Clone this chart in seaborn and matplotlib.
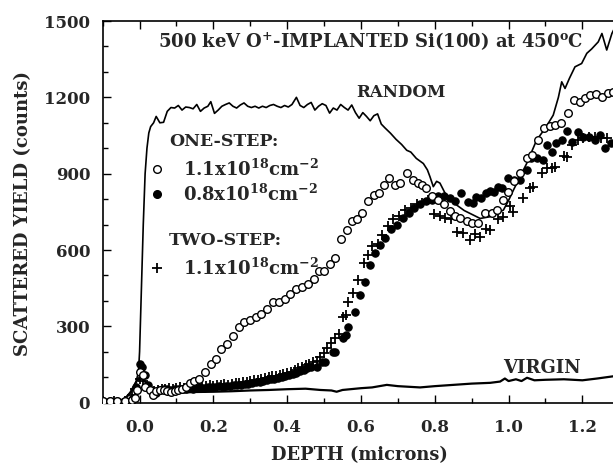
import numpy as np
import pandas as pd
import matplotlib
matplotlib.use("Agg")
import matplotlib.pyplot as plt
from matplotlib.ticker import MultipleLocator
from matplotlib.lines import Line2D
import seaborn as sns

# ---------------- data ----------------
random_x = [-0.10, -0.06, -0.04, -0.03, -0.02, -0.01, -0.003, 0.0, 0.005, 0.01, 0.015, 0.02, 0.025, 0.03,
            0.038, 0.045, 0.055, 0.065, 0.075, 0.085, 0.095, 0.105, 0.115, 0.125, 0.135, 0.145, 0.155,
            0.165, 0.175, 0.185, 0.193, 0.203, 0.213, 0.223, 0.233, 0.243, 0.253, 0.263, 0.273, 0.283,
            0.293, 0.303, 0.313, 0.323, 0.333, 0.343, 0.353, 0.363, 0.373, 0.383, 0.393, 0.403, 0.413,
            0.425, 0.435, 0.445, 0.455, 0.465, 0.475, 0.485, 0.495, 0.505, 0.515, 0.525, 0.535, 0.545,
            0.555, 0.565, 0.575, 0.585, 0.595, 0.605, 0.615, 0.625, 0.635, 0.645, 0.655, 0.665, 0.68,
            0.695, 0.71, 0.724, 0.735, 0.75, 0.769, 0.78, 0.787, 0.796, 0.805, 0.814, 0.828, 0.845, 0.86,
            0.88, 0.905, 0.923, 0.95, 0.97, 0.986, 1.0, 1.013, 1.03, 1.049, 1.076, 1.1, 1.121, 1.135,
            1.144, 1.153, 1.165, 1.18, 1.198, 1.212, 1.225, 1.243, 1.253, 1.266, 1.28, 1.29]
random_y = [5, 5, 15, 30, 50, 80, 120, 200, 450, 700, 900, 1000, 1060, 1085,
            1100, 1125, 1100, 1102, 1145, 1160, 1158, 1168, 1150, 1162, 1160, 1155, 1172,
            1145, 1158, 1165, 1183, 1137, 1150, 1165, 1172, 1178, 1165, 1158, 1170, 1178,
            1165, 1160, 1165, 1158, 1165, 1160, 1168, 1172, 1165, 1160, 1168, 1162, 1172,
            1200, 1168, 1160, 1172, 1180, 1150, 1165, 1175, 1168, 1138, 1158, 1150, 1172,
            1160, 1150, 1170, 1140, 1118, 1140, 1125, 1108, 1128, 1135, 1095, 1080, 1059,
            1035, 1015, 992, 985, 960, 940, 915, 888, 849, 870, 863, 823, 800, 776,
            755, 737, 724, 731, 745, 757, 795, 835, 885, 940, 1032, 1080, 1130, 1200,
            1261, 1235, 1275, 1320, 1333, 1373, 1390, 1418, 1451, 1386, 1451, 1480]

virgin_x = [-0.10, -0.06, -0.04, -0.025, -0.01, 0.0, 0.01, 0.02, 0.03, 0.04, 0.05, 0.06, 0.08, 0.1,
            0.12, 0.15, 0.2, 0.25, 0.3, 0.35, 0.4, 0.45, 0.49, 0.52, 0.534, 0.55, 0.6, 0.63, 0.67,
            0.7, 0.76, 0.8, 0.85, 0.9, 0.95, 0.977, 0.99, 1.0, 1.02, 1.035, 1.05, 1.07, 1.1, 1.15,
            1.2, 1.24, 1.29]
virgin_y = [5, 6, 15, 40, 80, 100, 95, 70, 45, 32, 38, 42, 43, 40,
            40, 42, 43, 45, 48, 50, 53, 55, 50, 48, 43, 50, 57, 60, 70,
            65, 60, 65, 70, 75, 78, 83, 95, 85, 92, 85, 98, 88, 90, 92,
            88, 95, 105]

one_step_11_x = [-0.10, -0.08, -0.06, -0.04, -0.02, -0.012, -0.008, 0.001, 0.008, 0.015, 0.028, 0.037,
                 0.045, 0.055, 0.065, 0.075, 0.085, 0.095, 0.105, 0.115, 0.125, 0.137, 0.148, 0.161,
                 0.177, 0.193, 0.206, 0.222, 0.238, 0.254, 0.269, 0.284, 0.3, 0.316, 0.329, 0.345,
                 0.361, 0.377, 0.393, 0.408, 0.424, 0.44, 0.456, 0.472, 0.487, 0.501, 0.516, 0.529,
                 0.545, 0.561, 0.577, 0.589, 0.603, 0.619, 0.635, 0.648, 0.663, 0.677, 0.691, 0.705,
                 0.724, 0.74, 0.754, 0.766, 0.777, 0.793, 0.808, 0.824, 0.84, 0.856, 0.869, 0.887,
                 0.9, 0.918, 0.936, 0.954, 0.968, 0.986, 0.999, 1.014, 1.031, 1.049, 1.063, 1.08,
                 1.096, 1.112, 1.127, 1.143, 1.161, 1.177, 1.193, 1.208, 1.222, 1.238, 1.254, 1.27,
                 1.283]
one_step_11_y = [5, 5, 5, 8, 10, 17, 50, 122, 110, 63, 50, 30,
                 45, 50, 48, 45, 42, 45, 50, 55, 60, 76, 85, 94,
                 120, 153, 172, 211, 231, 263, 296, 316, 326, 335, 348, 368,
                 394, 394, 407, 426, 446, 453, 466, 485, 518, 518, 544, 570,
                 642, 677, 713, 720, 746, 792, 818, 824, 857, 883, 857, 863,
                 903, 876, 863, 857, 844, 811, 798, 779, 753, 733, 724, 713,
                 705, 705, 744, 744, 757, 796, 829, 870, 901, 960, 974, 1033,
                 1079, 1088, 1092, 1101, 1137, 1189, 1183, 1196, 1209, 1212, 1203, 1216,
                 1222]

one_step_08_x = [-0.10, -0.08, -0.06, -0.04, -0.02, -0.01, 0.0, 0.007, 0.014, 0.024, 0.034, 0.045,
                 0.055, 0.065, 0.075, 0.085, 0.095, 0.105, 0.115, 0.125, 0.135, 0.145, 0.155, 0.165,
                 0.175, 0.185, 0.195, 0.205, 0.215, 0.225, 0.235, 0.245, 0.255, 0.265, 0.275, 0.285,
                 0.295, 0.305, 0.315, 0.325, 0.335, 0.345, 0.355, 0.365, 0.375, 0.385, 0.395, 0.405,
                 0.415, 0.425, 0.435, 0.445, 0.455, 0.465, 0.48, 0.495, 0.503, 0.523, 0.53, 0.552,
                 0.56, 0.566, 0.584, 0.598, 0.611, 0.625, 0.638, 0.651, 0.666, 0.682, 0.698, 0.714,
                 0.729, 0.745, 0.761, 0.777, 0.793, 0.808, 0.824, 0.84, 0.856, 0.872, 0.891, 0.903,
                 0.913, 0.925, 0.94, 0.951, 0.96, 0.972, 0.982, 0.999, 1.014, 1.031, 1.049, 1.061,
                 1.076, 1.093, 1.103, 1.119, 1.129, 1.145, 1.158, 1.173, 1.189, 1.201, 1.217, 1.233,
                 1.249, 1.262, 1.277]
one_step_08_y = [5, 5, 5, 5, 15, 60, 153, 140, 107, 68, 45, 40,
                 50, 52, 55, 50, 52, 55, 52, 55, 58, 55, 58, 60,
                 58, 62, 60, 62, 65, 63, 67, 65, 68, 70, 68, 72,
                 75, 78, 80, 82, 85, 88, 92, 95, 98, 100, 104, 108,
                 112, 118, 124, 130, 135, 140, 141, 160, 161, 200, 200, 253,
                 265, 299, 358, 423, 475, 541, 587, 620, 648, 681, 700, 726,
                 746, 766, 779, 792, 798, 811, 811, 805, 792, 824, 790, 785,
                 809, 805, 825, 831, 828, 849, 844, 882, 876, 875, 914, 961,
                 960, 955, 1013, 987, 1020, 1033, 1066, 1026, 1065, 1046, 1046, 1033,
                 1053, 1000, 1020]

two_step_11_x = [-0.10, -0.07, -0.04, -0.02, -0.013, 0.0, 0.01, 0.02, 0.03, 0.04, 0.05, 0.06, 0.07,
                 0.08, 0.09, 0.1, 0.11, 0.12, 0.13, 0.14, 0.15, 0.16, 0.17, 0.18, 0.19, 0.2, 0.21,
                 0.22, 0.23, 0.24, 0.25, 0.26, 0.27, 0.28, 0.29, 0.3, 0.31, 0.32, 0.33, 0.34, 0.35,
                 0.36, 0.37, 0.38, 0.39, 0.4, 0.41, 0.42, 0.43, 0.44, 0.45, 0.46, 0.47, 0.48, 0.49,
                 0.5, 0.507, 0.52, 0.53, 0.54, 0.552, 0.56, 0.566, 0.579, 0.593, 0.607, 0.62, 0.631,
                 0.645, 0.658, 0.672, 0.687, 0.703, 0.719, 0.735, 0.751, 0.766, 0.782, 0.798, 0.814,
                 0.829, 0.845, 0.86, 0.877, 0.896, 0.908, 0.923, 0.94, 0.95, 0.972, 0.986, 1.003,
                 1.013, 1.04, 1.059, 1.067, 1.09, 1.103, 1.119, 1.126, 1.151, 1.158, 1.173, 1.187,
                 1.203, 1.219, 1.235, 1.251, 1.266]
two_step_11_y = [5, 5, 8, 30, 55, 95, 85, 60, 50, 45, 50, 55, 55,
                 58, 55, 58, 60, 58, 62, 60, 62, 65, 63, 65, 68, 66, 70,
                 68, 72, 70, 74, 76, 78, 80, 82, 85, 88, 90, 93, 96, 100,
                 103, 106, 110, 113, 118, 122, 128, 135, 142, 148, 152, 158, 165, 180,
                 195, 214, 235, 253, 270, 338, 345, 397, 430, 482, 548, 580, 614,
                 622, 660, 694, 720, 733, 759, 766, 779, 785, 798, 740, 733,
                 726, 720, 672, 668, 639, 661, 652, 681, 679, 720, 731, 772,
                 750, 803, 844, 849, 901, 922, 922, 927, 968, 967, 1013, 1033,
                 1039, 1046, 1046, 1039, 1039]

x_ticks = [0.0, 0.2, 0.4, 0.6, 0.8, 1.0, 1.2]
y_ticks = [0, 300, 600, 900, 1200, 1500]

# ---------------- style ----------------
sns.set_style("ticks")
plt.rcParams["font.family"] = ["DejaVu Serif"]
plt.rcParams["font.weight"] = "bold"
plt.rcParams["mathtext.fontset"] = "dejavuserif"
plt.rcParams["mathtext.default"] = "bf"

FS = 12

fig = plt.figure(figsize=(6.13, 4.65), dpi=100)
ax = fig.add_axes([0.1675, 0.134, 1.0 - 0.1675, 0.9548 - 0.134])

df_random = pd.DataFrame({"x": random_x, "y": random_y})
df_virgin = pd.DataFrame({"x": virgin_x, "y": virgin_y})
sns.lineplot(data=df_random, x="x", y="y", ax=ax, color="black", lw=1.2,
             sort=False, estimator=None, zorder=2)
sns.lineplot(data=df_virgin, x="x", y="y", ax=ax, color="black", lw=1.6,
             sort=False, estimator=None, zorder=2)

df_o = pd.DataFrame({"x": one_step_11_x, "y": one_step_11_y})
df_f = pd.DataFrame({"x": one_step_08_x, "y": one_step_08_y})
df_p = pd.DataFrame({"x": two_step_11_x, "y": two_step_11_y})

sns.scatterplot(data=df_f, x="x", y="y", ax=ax, marker="o", s=28, color="black",
                edgecolor="black", linewidth=0.8, zorder=3)
sns.scatterplot(data=df_p, x="x", y="y", ax=ax, marker="+", s=48, color="black",
                linewidth=1.3, zorder=3)
sns.scatterplot(data=df_o, x="x", y="y", ax=ax, marker="o", s=30, facecolor="white",
                edgecolor="black", linewidth=1.0, zorder=4)

ax.set_xlim(-0.1, 1.283)
ax.set_ylim(0, 1500)
ax.set_xticks(x_ticks)
ax.set_xticklabels([f"{v:.1f}" for v in x_ticks])
ax.set_yticks(y_ticks)
ax.set_yticklabels([str(v) for v in y_ticks])
ax.xaxis.set_minor_locator(MultipleLocator(0.1))
ax.yaxis.set_minor_locator(MultipleLocator(100))
ax.tick_params(which="both", direction="in", top=True, right=False, width=1.0,
               labelsize=FS, color="black")
ax.tick_params(which="major", length=6)
ax.tick_params(which="minor", length=3.5)
ax.tick_params(axis="x", pad=12)
ax.tick_params(axis="y", pad=9)
for lab in ax.get_xticklabels() + ax.get_yticklabels():
    lab.set_fontweight("bold")
ax.spines["right"].set_visible(False)
for s in ["left", "top", "bottom"]:
    ax.spines[s].set_linewidth(1.2)
    ax.spines[s].set_color("black")
ax.set_xlabel("")
ax.set_ylabel("")

fig.text(359 / 613, 1 - 455 / 465, "DEPTH (microns)", ha="center", va="center",
         fontsize=12.9, fontweight="bold")
fig.text(23 / 613, 1 - 214 / 465, "SCATTERED YIELD (counts)", ha="center", va="center",
         rotation=90, fontsize=13, fontweight="bold")

ax.text(0.625, 1418, r"500 keV O$^{+}$-IMPLANTED Si(100) at 450$^{\rm o}$C", ha="center",
        va="center", fontsize=13, fontweight="bold")
ax.text(0.709, 1221, "RANDOM", ha="center", va="center", fontsize=12, fontweight="bold")
ax.text(1.09, 136, "VIRGIN", ha="center", va="center", fontsize=13, fontweight="bold")
ax.text(0.08, 1025, "ONE-STEP:", ha="left", va="center", fontsize=12.5, fontweight="bold")
ax.text(0.08, 636, "TWO-STEP:", ha="left", va="center", fontsize=12.5, fontweight="bold")

blank = Line2D([], [], linestyle="none", marker=None)
h_o = Line2D([], [], linestyle="none", marker="o", markersize=5.5, markerfacecolor="white",
             markeredgecolor="black", markeredgewidth=1.0)
h_f = Line2D([], [], linestyle="none", marker="o", markersize=5.5, markerfacecolor="black",
             markeredgecolor="black")
h_p = Line2D([], [], linestyle="none", marker="+", markersize=7, markeredgewidth=1.3,
             color="black")
dose = r"1.1x10$^{18}$cm$^{-2}$"
dose2 = r"0.8x10$^{18}$cm$^{-2}$"
LFS = 13
leg = ax.legend([h_o, h_f, blank, blank, h_p], [dose, dose2, dose, dose, dose],
                loc="upper left", bbox_to_anchor=(0.09, 0.6395), frameon=False,
                borderpad=0, borderaxespad=0, handlelength=0.95, handletextpad=0.95,
                labelspacing=0.19, prop={"weight": "bold", "size": LFS})
# rows 3 and 4 are spacers (the TWO-STEP header sits there) – keep them invisible
for t in leg.get_texts()[2:4]:
    t.set_alpha(0)

fig.savefig("out.png", dpi=100)
